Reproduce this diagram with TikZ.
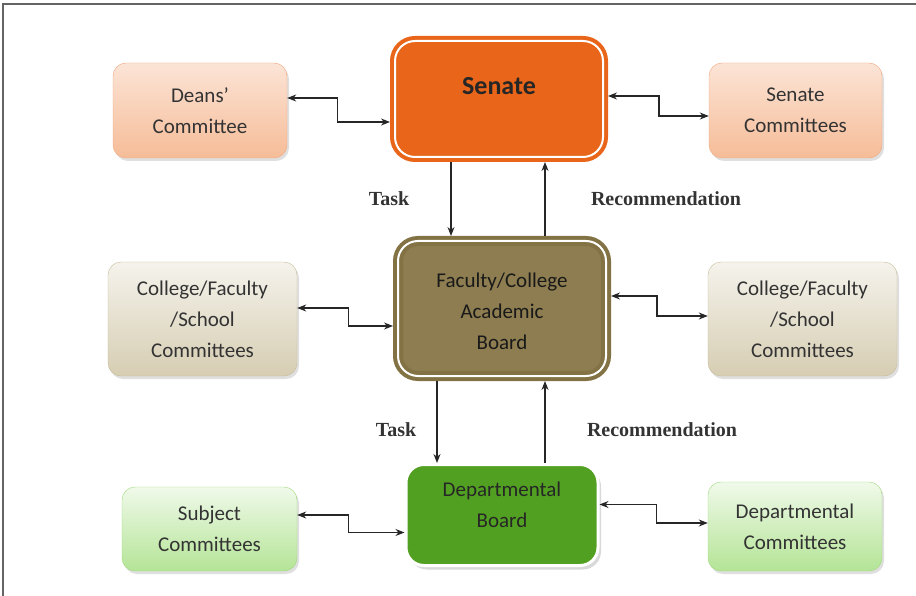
\documentclass[tikz,border=0pt]{standalone}
\usepackage{fontspec}
\setmainfont{Carlito}
\newfontfamily\labfont{Liberation Serif}
\usetikzlibrary{positioning,arrows.meta,shadows}
\definecolor{Orange}{RGB}{232,101,26}
\definecolor{Peach}{RGB}{246,188,152}
\definecolor{PeachLine}{RGB}{238,166,124}
\definecolor{Olive}{RGB}{141,125,80}
\definecolor{OliveLine}{RGB}{130,114,68}
\definecolor{Sand}{RGB}{214,205,178}
\definecolor{SandLine}{RGB}{198,187,152}
\definecolor{Grass}{RGB}{82,160,34}
\definecolor{Mint}{RGB}{180,228,150}
\definecolor{MintLine}{RGB}{158,216,122}
\definecolor{Frame}{RGB}{100,100,100}

\begin{document}
\begin{tikzpicture}[x=1pt,y=-1pt,
 s/.style={rounded corners=13pt,inner sep=0pt,align=center,font=\fontsize{21}{31}\selectfont,text=black!80,
  drop shadow={shadow xshift=2pt,shadow yshift=-3pt,opacity=.25}},
 m/.style={rounded corners=20pt,inner sep=0pt,draw=#1,fill=#1,line width=4pt,double=white,double distance=2pt,outer sep=5pt},
 txt/.style={align=center,font=\fontsize{21}{31}\selectfont,text=black!85},
 lab/.style={font=\labfont\bfseries\fontsize{20}{22}\selectfont,text=black!80},
 a/.style={{Stealth[length=9pt,width=7pt]}-{Stealth[length=9pt,width=7pt]},line width=1.2pt,black!85},
 v/.style={-{Stealth[length=9pt,width=7pt]},line width=1.2pt,black!85}]
\useasboundingbox (0,0) rectangle (916,596);
\draw[Frame,line width=1.5pt] (3,596) -- (3,4) -- (916,4);

% top row
\node[m=Orange,minimum width=208pt,minimum height=116pt] (sen) at (499,99) {};
\node[txt,font=\fontsize{26}{30}\selectfont\bfseries] (sent) at ([yshift=13pt]sen.center) {Senate};
\node[s,draw=PeachLine,top color=Peach!40,bottom color=Peach,minimum width=174pt,minimum height=95pt] (deans) at (200,110.5) {Deans’\\Committee};
\node[s,draw=PeachLine,top color=Peach!40,bottom color=Peach,minimum width=173pt,minimum height=95pt] (scom) at (795.5,110.5) {Senate\\Committees};

% middle row
\node[m=Olive,draw=OliveLine,minimum width=208pt,minimum height=135pt] (fac) at (502,308.5) {};
\node[txt,text=black!90] (fact) at ([yshift=-2.5pt]fac.center) {Faculty/College\\Academic\\Board};
\node[s,draw=SandLine,top color=Sand!25,bottom color=Sand,minimum width=189pt,minimum height=114pt] (cfl) at (202.5,319) {College/Faculty\\/School\\Committees};
\node[s,draw=SandLine,top color=Sand!25,bottom color=Sand,minimum width=189pt,minimum height=114pt] (cfr) at (802.5,319) {College/Faculty\\/School\\Committees};

% bottom row
\node[rounded corners=18pt,inner sep=0pt,draw=white,line width=3pt,fill=Grass,minimum width=192pt,minimum height=101pt,
 drop shadow={shadow xshift=3pt,shadow yshift=-4pt,opacity=.3}] (dep) at (502,515) {};
\node[txt] (dept) at ([yshift=10pt]dep.center) {Departmental\\Board};
\node[s,draw=MintLine,top color=Mint!20,bottom color=Mint,minimum width=175pt,minimum height=84pt] (subj) at (209.5,529) {Subject\\Committees};
\node[s,draw=MintLine,top color=Mint!20,bottom color=Mint,minimum width=174pt,minimum height=89pt] (dcom) at (795,526.5) {Departmental\\Committees};

% side links
\draw[a] ([yshift=12.5pt]deans.east) -- ++(50,0) |- ([yshift=-23pt]sen.west);
\draw[a] ([yshift=3pt]sen.east) -- ++(51,0) |- ([yshift=-5.5pt]scom.west);
\draw[a] ([yshift=11pt]cfl.east) -- ++(51,0) |- ([yshift=-17.5pt]fac.west);
\draw[a] ([yshift=12.5pt]fac.east) -- ++(46,0) |- ([yshift=3pt]cfr.west);
\draw[a] ([yshift=14pt]subj.east) -- ++(51,0) |- ([yshift=-17.5pt]dep.west);
\draw[a] ([yshift=10.5pt]dep.east) -- ++(57,0) |- ([yshift=3.5pt]dcom.west);

% task and recommendation
\draw[v] ([xshift=-48pt]sen.south) -- ([xshift=-48pt]sen.south |- fac.north);
\draw[v] ([xshift=43pt]fac.north) -- ([xshift=43pt]fac.north |- sen.south);
\draw[v] ([xshift=-65pt]fac.south) -- ([xshift=-65pt]fac.south |- dep.north);
\draw[v] ([xshift=43pt]dep.north) -- ([xshift=43pt]dep.north |- fac.south);
\node[lab] (t1) at (389,199) {Task};
\node[lab] (r1) at (666,199) {Recommendation};
\node[lab] (t2) at (396,430) {Task};
\node[lab] (r2) at (662,430) {Recommendation};
\end{tikzpicture}
\end{document}
